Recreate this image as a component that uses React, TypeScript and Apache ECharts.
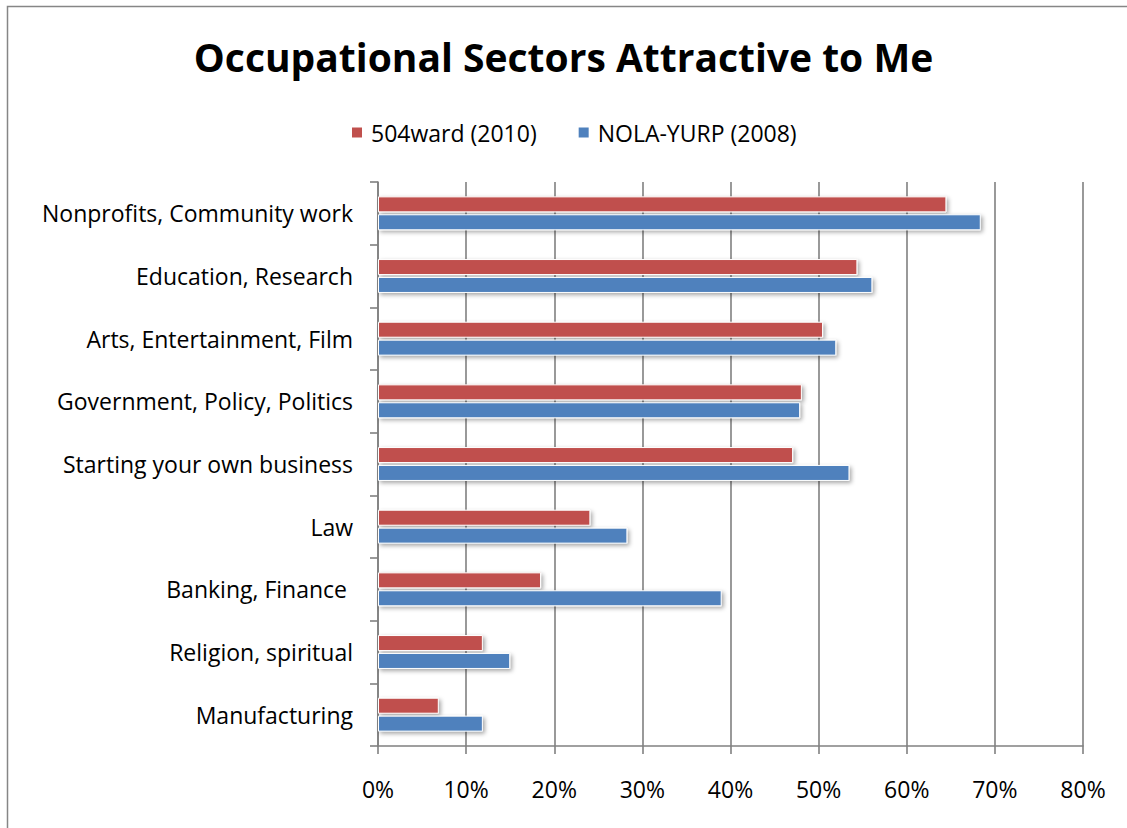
import React, { useEffect, useRef } from "react";
import * as echarts from "echarts";

const categories = [
  "Nonprofits, Community work",
  "Education, Research",
  "Arts, Entertainment, Film",
  "Government, Policy, Politics",
  "Starting your own business",
  "Law",
  "Banking, Finance ",
  "Religion, spiritual",
  "Manufacturing",
];
const ward2010 = [64.5, 54.4, 50.5, 48.1, 47.1, 24.1, 18.5, 11.9, 6.9];
const yurp2008 = [68.4, 56.1, 52.0, 47.9, 53.5, 28.3, 39.0, 15.0, 11.9];
const seriesNames = ["504ward (2010)", "NOLA-YURP (2008)"];
const FONT = "'Open Sans', 'Noto Sans', sans-serif";

export default function App() {
  const ref = useRef<HTMLDivElement>(null);
  useEffect(() => {
    if (!ref.current) return;
    const chart = echarts.init(ref.current, undefined, { renderer: "svg" });
    const barStyle = (color: string) => ({
      color,
      borderColor: "#ffffff",
      borderWidth: 1,
      shadowColor: "rgba(0,0,0,0.35)",
      shadowBlur: 4,
      shadowOffsetX: 2,
      shadowOffsetY: 2,
    });
    chart.setOption({
      animation: false,
      backgroundColor: "#ffffff",
      title: {
        text: "Occupational Sectors Attractive to Me",
        left: "center",
        top: 32,
        textStyle: { fontFamily: FONT, fontSize: 39, fontWeight: "bold", color: "#000" },
      },
      legend: {
        data: seriesNames,
        left: 345,
        top: 116,
        icon: "rect",
        itemWidth: 12,
        itemHeight: 12,
        itemGap: 40,
        textStyle: { fontFamily: FONT, fontSize: 23, color: "#000", padding: [0, 0, 0, 3] },
      },
      graphic: [
        {
          type: "rect",
          shape: { x: 7.5, y: 6.5, width: 1140, height: 840 },
          style: { fill: "none", stroke: "#868686", lineWidth: 1.5 },
          silent: true,
        },
      ],
      grid: { left: 378, right: 44, top: 182, bottom: 82 },
      xAxis: {
        type: "value",
        min: 0,
        max: 80,
        interval: 10,
        axisLine: { show: true, lineStyle: { color: "#808080", width: 1.6 } },
        axisTick: { show: true, length: 8, lineStyle: { color: "#808080", width: 1.6 } },
        splitLine: { show: true, lineStyle: { color: "#808080", width: 1.6 } },
        axisLabel: {
          formatter: "{value}%",
          margin: 31,
          fontFamily: FONT,
          fontSize: 23,
          color: "#000",
        },
      },
      yAxis: {
        type: "category",
        data: categories,
        inverse: true,
        axisLine: { show: true, lineStyle: { color: "#808080", width: 1.6 } },
        axisTick: { show: true, length: 8, lineStyle: { color: "#808080", width: 1.6 } },
        axisLabel: { margin: 25, fontFamily: FONT, fontSize: 23, color: "#000" },
      },
      series: [
        {
          name: seriesNames[0],
          type: "bar",
          data: ward2010,
          barWidth: 16,
          barGap: "12%",
          itemStyle: barStyle("#C0504D"),
        },
        {
          name: seriesNames[1],
          type: "bar",
          data: yurp2008,
          barWidth: 16,
          barGap: "12%",
          itemStyle: barStyle("#4F81BD"),
        },
      ],
    });
    return () => chart.dispose();
  }, []);
  return (
    <div
      ref={ref}
      style={{ position: "fixed", left: 0, top: 0, width: 1127, height: 828 }}
    />
  );
}
